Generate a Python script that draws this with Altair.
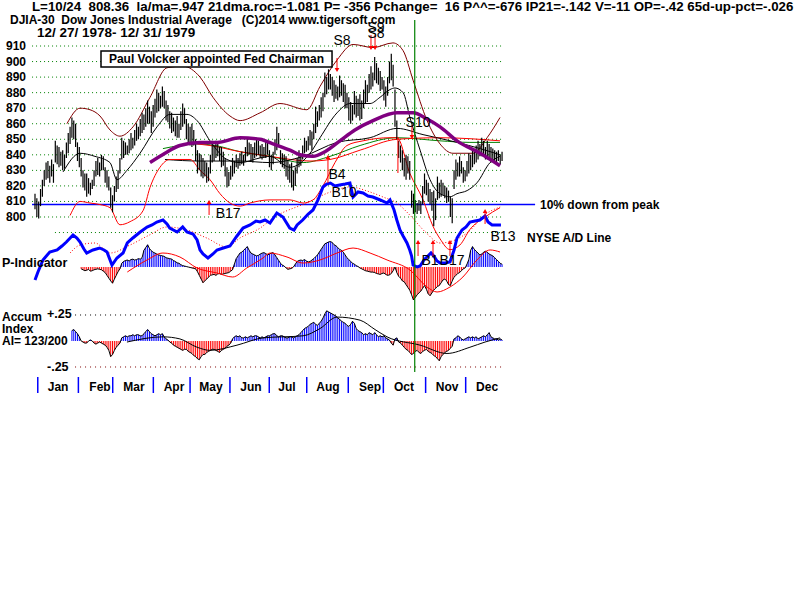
import altair as alt
import pandas as pd

# ---------------- data (trading-day index 0 = 12/27/1978) ----------------
HI = [815,812,810,818,824,830,835,836,833,837,
      834,849,846,845,842,843,840,848,854,858,
      864,862,860,848,845,838,830,828,828,825,
      822,824,830,836,838,835,840,839,832,830,
      826,819,814,820,826,830,838,851,849,848,
      846,850,854,851,856,860,858,863,867,866,
      870,875,871,868,872,876,882,880,878,884,
      881,875,872,868,867,864,862,865,860,868,
      873,870,863,860,858,860,856,850,843,841,
      840,838,836,835,832,840,849,846,849,847,
      845,845,842,838,832,829,833,838,836,840,
      838,841,842,840,845,851,848,847,845,848,
      851,849,846,847,845,849,848,843,840,842,
      850,858,854,843,841,840,839,836,834,835,
      830,832,838,843,840,846,851,849,852,856,
      855,860,871,868,872,877,880,893,890,895,
      892,890,888,885,884,891,888,886,885,880,
      877,874,872,881,878,876,879,875,882,888,
      885,892,897,893,903,899,896,894,890,888,
      884,890,900,905,898,882,862,849,846,843,
      838,840,839,836,817,815,811,809,811,810,
      820,828,824,822,818,816,817,812,826,822,
      824,822,820,819,817,813,812,830,837,835,
      839,836,832,830,836,841,840,843,842,846,
      849,847,851,849,845,849,847,845,844,843,
      842,843,840,842]
LO = [805,800,799,807,813,820,824,825,822,826,
      822,835,834,832,833,830,831,838,841,847,
      851,850,845,836,832,826,819,817,813,815,
      814,818,820,826,827,826,830,830,822,819,
      817,806,803,810,816,818,828,837,838,840,
      840,841,843,844,846,849,850,852,854,856,
      858,860,860,854,858,864,867,868,870,871,
      870,862,861,857,854,855,852,851,851,856,
      858,860,850,848,846,845,846,836,828,830,
      826,825,826,822,823,828,835,836,838,839,
      836,832,833,826,819,820,824,826,828,832,
      831,833,834,833,836,839,840,836,835,838,
      839,840,838,837,838,838,840,832,830,834,
      840,843,845,834,832,831,826,824,822,819,
      817,820,828,832,833,837,841,842,843,846,
      843,850,854,858,862,864,868,877,879,882,
      882,878,874,876,875,877,878,874,870,870,
      862,860,862,866,864,865,862,863,870,873,
      874,880,882,884,888,886,885,881,882,875,
      871,878,886,888,884,858,850,838,835,830,
      826,824,828,824,806,802,803,802,804,802,
      808,815,814,810,808,804,794,798,811,812,
      813,814,812,809,810,800,796,818,824,826,
      826,828,822,823,826,828,830,832,834,835,
      837,839,839,840,837,837,838,835,836,835,
      835,836,834,836]

# P-Indicator, days 25..253
P_START = 25
P_IND = [-20,-30,-40,-35,-25,-45,-40,-30,-25,-20,
         -25,-30,-45,-60,-90,-120,-150,-175,-130,-90,
         -50,-20,40,60,70,75,65,80,85,75,
         80,90,85,100,180,210,240,200,175,160,
         150,140,130,125,120,115,100,95,90,85,
         70,60,45,40,25,15,10,5,0,-5,
         -10,-15,-20,-50,-90,-130,-170,-150,-130,-110,
         -90,-85,-80,-90,-75,-70,-80,-75,-70,-65,
         -60,-45,-30,30,90,120,150,160,180,200,
         220,180,150,140,130,120,125,140,150,155,
         145,130,140,150,155,130,100,70,40,20,
         10,-10,-25,-20,-15,0,30,60,70,75,
         70,80,65,55,60,75,90,110,130,160,
         190,220,250,260,270,275,265,240,230,210,
         190,180,160,130,100,80,60,40,30,15,
         5,-10,-20,-30,-40,-45,-50,-55,-55,-60,
         -70,-75,-80,-70,-65,-80,-90,-85,-70,-40,
         0,-60,-100,-120,-150,-160,-190,-220,-250,-300,
         -356,-330,-300,-280,-260,-230,-200,-240,-290,-310,
         -280,-250,-230,-210,-200,-170,-140,-130,-150,-190,
         -200,-150,-110,-90,-70,-60,-40,-20,-10,30,
         80,180,220,190,170,150,130,140,160,170,
         160,140,130,120,100,80,60,40,30]
PMA_DAY = [50,60.7,69.3,78.5,87.8,98.6,107.1,114.7,123.5,127.3,136.5,145.2,154.4,163.6,172.3,181.5,190.7,203.1,212.4,217.8,224.8,231.8,239.4,246.5,251.9]
PMA_VAL = [-54,76,151,108,-11,-65,-108,-11,97,151,108,43,76,151,205,151,76,-32,-216,-270,-216,-108,76,184,162]

# Accumulation Index, days 20..253
AI_START = 20
AI = [.10,.11,.09,.07,.04,.00,-.01,-.02,-.02,.00,
      .01,.00,-.02,-.03,-.02,-.01,-.02,-.03,-.04,-.06,
      -.09,-.15,-.13,-.09,-.06,-.04,-.02,.03,.04,.05,
      .04,.05,.05,.06,.05,.06,.06,.05,.05,.07,
      .09,.11,.09,.07,.06,.05,.06,.07,.06,.07,
      .04,.02,.01,-.01,-.02,-.04,-.05,-.06,-.07,-.08,
      -.09,-.08,-.08,-.10,-.11,-.12,-.14,-.15,-.17,-.18,
      -.15,-.13,-.13,-.11,-.10,-.09,-.08,-.08,-.09,-.10,
      -.11,-.09,-.08,-.07,-.05,-.04,-.02,.02,.04,.05,
      .04,.05,.03,.03,.04,.03,.04,.05,.04,.05,
      .05,.04,.03,.04,.03,.04,.05,.05,.06,.07,
      .07,.05,.04,.05,.05,.04,.03,.03,.04,.04,
      .03,.04,.05,.06,.08,.10,.12,.13,.14,.16,
      .17,.18,.16,.15,.17,.19,.22,.26,.29,.28,
      .27,.26,.25,.24,.22,.21,.19,.18,.17,.15,
      .14,.16,.19,.17,.12,.10,.09,.08,.06,.07,
      .06,.08,.07,.06,.08,.06,.04,.05,.04,.05,
      .03,.02,.01,-.02,-.04,.02,.03,-.01,-.02,-.04,
      -.06,-.08,-.09,-.11,-.13,-.12,-.10,-.09,-.11,-.12,
      -.10,-.09,-.08,-.10,-.11,-.12,-.14,-.15,-.17,-.19,
      -.15,-.13,-.11,-.10,-.09,-.07,-.05,.02,.03,.05,
      .04,.02,.01,.02,.03,.04,.03,.04,.03,.04,
      .02,.03,.04,.05,.04,.06,.08,.04,.03,.02,
      .02,.01,.02,.01]
AIMA_DAY = [49.8,69.3,78.5,87.8,94.8,109.4,123.5,145.2,154.4,163.6,176.1,184.2,190.7,208.6,223.2,235.6,243.8,251.9]
AIMA_VAL = [-.01,.04,.02,-.06,-.09,-.04,.03,.05,.12,.23,.20,.11,.04,-.04,-.12,-.06,-.01,.03]

# NYSE A/D line and its moving average (arbitrary units)
AD_DAY = [0,1.6,4.3,8,12,14.6,17,20.6,22.7,24.4,26.5,28,31.4,35,37.4,39,41.7,44.4,47.7,50,
          53,57,60.7,63.4,66,69.3,71.5,73,77,80,82.3,85.6,87.8,89.4,91,93.7,96.4,98.6,102,105.6,
          109.4,112.7,116.5,119.7,121.9,124.6,127.3,131,134.3,138,140.3,142,145,148,150.6,153.3,156,158,160,162.5,
          165,168,170.6,172.3,175,177.7,180.4,183,187,190.7,192.3,194.5,196,197.7,199.4,201.5,203,204,204.8,207,
          208.6,210.7,212.3,214.5,216,217.8,219.4,222,224.8,227,228.6,231.3,233.5,235.6,238.4,241,243.8,245.4,247.6,249.7,252.4]
AD_VAL = [200,360,600,760,800,880,960,1100,1040,960,820,740,800,840,800,760,500,640,740,940,
          1040,1160,1260,1300,1360,1400,1320,1240,1160,1260,1160,1120,1000,800,720,640,720,800,840,880,
          1080,1240,1300,1380,1360,1400,1340,1540,1460,1240,1200,1300,1400,1520,1600,1800,2060,2120,2140,2080,
          2100,2120,2140,1860,1960,1940,1880,1860,1800,1740,1800,1600,1400,1200,1080,940,800,680,500,460,
          480,600,660,740,680,580,540,540,560,800,1040,1200,1260,1360,1380,1400,1480,1360,1300,1300,1300]
ADMA_DAY = [19,24.4,32.5,40.6,51.5,62,71.5,82.3,93,104,111,122,129,147,160,170.6,181.5,188.5,196,203,212,219.4,227.5,234,245,252]
ADMA_VAL = [740,900,940,740,900,1100,1260,1200,1040,860,1040,1240,1440,1740,1960,2060,1960,1860,1740,1500,1140,940,1000,1140,1540,1660]

# moving averages and bands of the DJIA
MA21_DAY = [15.2,24.4,32.5,40.6,44.4,49.8,56.9,66.1,73.1,82.3,87.8,94.8,104,111.1,121.9,127.3,138.1,149,154.4,163.6,170.6,181.5,186.9,192.3,195,199.4,203.1,208.6,214,219.4,224.8,228.6,234.1,239.4,246.5,251.9]
MA21_VAL = [829,841,839,835,824,830,841,858,866,866,862,849,837,835,838,839,832,841,851,867,873,873,877,882,883,880,864,843,824,815,813,815,817,822,835,839]
MA65_DAY = [70.4,89.4,111.1,127.3,145.2,163.6,181.5,196.1,210.2,228.6,241.1,251.9]
MA65_VAL = [837,836,836,835,839,848,851,857,853,848,844,840]
PURPLE_DAY = [62.3,70.4,78.5,89.4,98.6,111.1,121.9,128.9,138.1,143.6,150.6,157.1,165.2,173.3,183.1,196.1,204.8,212.4,219.4,228.6,241.1,251.9]
PURPLE_VAL = [835,841,846,848,848,851,850,847,843,840,839,842,849,856,862,867,867,863,858,849,841,833]
GREEN_DAY = [69.3,78.5,87.8,97.5,111.1,127.3,145.2,159.8,176.1,196.1,219.4,235.6,251.9]
GREEN_VAL = [844,846,847,846,842,839,835,839,846,851,849,848,848]
REDMA_DAY = [87.8,94.8,111.1,127.3,149,159.8,176.1,196.1,219.4,251.9]
REDMA_VAL = [847,846,842,839,836,837,843,850,851,849]
UPPER_DAY = [17.3,24.4,29.8,35.2,40.6,46,53.1,62.3,71.5,80.2,89.4,96.4,105.6,111.1,121.9,132.7,147.3,154.4,163.6,172.3,183.1,193.9,199.4,204.8,212.4,219.4,226.4,237.3,244.9,251.9]
UPPER_VAL = [860,870,869,865,856,852,858,877,896,897,890,877,865,862,867,873,869,884,901,911,909,912,907,888,862,847,841,841,851,864]
LOWER_DAY = [19,24.4,29.8,35.2,40.6,46,51.5,58.5,62.3,67.7,73.1,84,89.4,94.8,100.2,105.6,111.1,116.5,127.3,138.1,145.2,150.6,156,162.5,169,177.7,192.3,196.1,203.1,210.2,215.6,219.4,224.8,230.2,235.6,243.8,251.9]
LOWER_VAL = [801,810,809,808,806,795,797,804,819,832,837,837,830,824,815,809,807,809,811,811,809,811,820,835,846,849,851,851,828,811,794,786,779,782,792,800,806]

PRICE_LEVELS = [910,900,890,880,870,860,850,840,830,820,810,800]
TEN_PCT_LEVEL = 808
LAST_DAY = 205.7

MONTHS = ["Jan","Feb","Mar","Apr","May","Jun","Jul","Aug","Sep","Oct","Nov","Dec"]
MONTH_START = [1.5,23.5,42.1,64.1,84,105.6,126.9,147.2,169.7,188.7,211.6,233.3]
MONTH_MID = [12.5,35.2,53.6,75.3,95.3,117,136.5,158.7,181.5,199.9,223.2,244.9]

SIG_TEXT = ["S8","S9","S8","S10","B4","B10","B17","B13","B1","B17"]
SIG_DAY = [166.3,184.7,184.7,207.5,163.6,167.4,104.6,253.5,214.0,225.9]
SIG_PRICE = [913.2,921.6,917.7,860.5,827.0,815.4,801.9,787.1,771.7,771.7]
ARR_DAY = [163.6,182.0,184.2,204.2,158.7,94.3,243.8,207.5,215.6,224.8]
ARR_FROM = [902.3,917.1,917.1,859.2,821.9,801.3,795.5,774.9,774.9,774.9]
ARR_TO = [894.6,908.7,908.7,851.5,838.6,809.6,803.9,783.9,783.9,783.9]

NB = "\u00a0"
HEAD1 = f"L=10/24{NB} 808.36{NB} la/ma=.947 21dma.roc=-1.081 P= -356 Pchange={NB} 16 P^^=-676 IP21=-.142 V=-11 OP=-.42 65d-up-pct=-.026"
HEAD2 = f"DJIA-30{NB} Dow Jones Industrial Average{NB}{NB} (C)2014 www.tigersoft.com"
HEAD3 = "12/ 27/ 1978- 12/ 31/ 1979"
NOTE = "Paul Volcker appointed Fed Chairman"

# ---------------- scales (fixed so each panel sits in its band) ----------------
XDOM = [-18.96, 414.4]
PRICE_DOM = [553.6, 939.6]
P_DOM = [-3596.4, 2883.6]
AI_DOM = [-2.4904, 3.2788]
AD_DOM = [-6200, 5800]
FONT = "Liberation Sans"
BLUE, RED, GREEN = "#0000ff", "#ff0000", "#008000"


def xq(field="day"):
    return alt.X(f"{field}:Q", scale=alt.Scale(domain=XDOM, nice=False, zero=False), axis=None)


def x2q(field):
    return alt.X2(f"{field}:Q")


def yq(field, dom):
    return alt.Y(f"{field}:Q", scale=alt.Scale(domain=dom, nice=False, zero=False), axis=None)


def line(days, vals, dom, color, width, dash=None, interp="monotone"):
    df = pd.DataFrame({"day": days, "v": vals})
    kw = dict(color=color, strokeWidth=width, interpolate=interp)
    if dash:
        kw["strokeDash"] = dash
    return alt.Chart(df).mark_line(**kw).encode(x=xq(), y=yq("v", dom))


def text_px(txt, x, y, size=12.5, weight="bold", align="left", color="black"):
    df = pd.DataFrame({"t": [txt]})
    return alt.Chart(df).mark_text(align=align, baseline="middle", font=FONT, fontSize=size,
                                   fontWeight=weight, color=color).encode(
        x=alt.value(x), y=alt.value(y), text="t:N")


layers = []

# grid lines (price panel)
grid = pd.DataFrame({"p": PRICE_LEVELS + [790], "d0": [-1.6] * len(PRICE_LEVELS) + [10.8],
                     "d1": [253.5] * (len(PRICE_LEVELS) + 1)})
layers.append(alt.Chart(grid).mark_rule(color=GREEN, strokeDash=[1, 3], strokeWidth=1).encode(
    x=xq("d0"), x2=x2q("d1"), y=yq("p", PRICE_DOM)))
# accumulation +/-.25 lines
aig = pd.DataFrame({"a": [0.25, -0.25], "d0": [21.7, 21.7], "d1": [253.5, 253.5], "c": ["a", "b"]})
layers.append(alt.Chart(aig).mark_rule(strokeDash=[1, 4], strokeWidth=1).encode(
    x=xq("d0"), x2=x2q("d1"), y=yq("a", AI_DOM),
    color=alt.Color("c:N", scale=alt.Scale(domain=["a", "b"], range=["#000000", "#800000"]), legend=None)))

# price labels
plab = pd.DataFrame({"p": PRICE_LEVELS, "t": [str(v) for v in PRICE_LEVELS]})
layers.append(alt.Chart(plab).mark_text(align="left", baseline="middle", font=FONT, fontSize=12,
                                        fontWeight="bold").encode(x=alt.value(6), y=yq("p", PRICE_DOM), text="t:N"))

# 10% down line
ten = pd.DataFrame({"p": [TEN_PCT_LEVEL], "d0": [-1.6], "d1": [270.9]})
layers.append(alt.Chart(ten).mark_rule(color=BLUE, strokeWidth=1.5).encode(
    x=xq("d0"), x2=x2q("d1"), y=yq("p", PRICE_DOM)))

# moving averages and bands
layers.append(line(GREEN_DAY, GREEN_VAL, PRICE_DOM, GREEN, 1))
layers.append(line(REDMA_DAY, REDMA_VAL, PRICE_DOM, RED, 1))
layers.append(line(MA65_DAY, MA65_VAL, PRICE_DOM, "#000000", 1))
layers.append(line(UPPER_DAY, UPPER_VAL, PRICE_DOM, "#800000", 1))
layers.append(line(LOWER_DAY, LOWER_VAL, PRICE_DOM, RED, 1))
layers.append(line(MA21_DAY, MA21_VAL, PRICE_DOM, "#000000", 1))

# price bars
bars = pd.DataFrame({"day": list(range(len(HI))), "hi": HI, "lo": LO})
layers.append(alt.Chart(bars).mark_rule(color="#000000", strokeWidth=1.2).encode(
    x=xq(), y=yq("lo", PRICE_DOM), y2=alt.Y2("hi:Q")))
layers.append(line(PURPLE_DAY, PURPLE_VAL, PRICE_DOM, "#800080", 3.5))

# P-Indicator histogram
pdf = pd.DataFrame({"day": list(range(P_START, P_START + len(P_IND))), "v": P_IND})
pdf["zero"] = 0
layers.append(alt.Chart(pdf).mark_rule(strokeWidth=1).encode(
    x=xq(), y=yq("v", P_DOM), y2=alt.Y2("zero:Q"),
    color=alt.condition("datum.v >= 0", alt.value(BLUE), alt.value(RED))))
layers.append(alt.Chart(pdf).mark_line(color="#000000", strokeWidth=1).encode(x=xq(), y=yq("v", P_DOM)))
layers.append(line(PMA_DAY, PMA_VAL, P_DOM, RED, 1))

# Accumulation index histogram
adf = pd.DataFrame({"day": list(range(AI_START, AI_START + len(AI))), "v": AI})
adf["zero"] = 0
layers.append(alt.Chart(adf).mark_rule(strokeWidth=1).encode(
    x=xq(), y=yq("v", AI_DOM), y2=alt.Y2("zero:Q"),
    color=alt.condition("datum.v >= 0", alt.value(BLUE), alt.value(RED))))
layers.append(alt.Chart(adf).mark_line(color="#000000", strokeWidth=1).encode(x=xq(), y=yq("v", AI_DOM)))
layers.append(line(AIMA_DAY, AIMA_VAL, AI_DOM, "#000000", 1))

# A/D line
layers.append(line(ADMA_DAY, ADMA_VAL, AD_DOM, RED, 1, dash=[1, 2]))
layers.append(line(AD_DAY, AD_VAL, AD_DOM, BLUE, 3, interp="linear"))

# green marker line at the last date
lastdf = pd.DataFrame({"day": [LAST_DAY]})
layers.append(alt.Chart(lastdf).mark_rule(color=GREEN, strokeWidth=1.2).encode(
    x=xq(), y=alt.value(20), y2=alt.value(372)))

# signal arrows
arr = pd.DataFrame({"day": ARR_DAY, "a": ARR_FROM, "b": ARR_TO})
arr["shape"] = ["triangle-down" if b < a else "triangle-up" for a, b in zip(ARR_FROM, ARR_TO)]
layers.append(alt.Chart(arr).mark_rule(color=RED, strokeWidth=1).encode(
    x=xq(), y=yq("a", PRICE_DOM), y2=alt.Y2("b:Q")))
layers.append(alt.Chart(arr).mark_point(filled=True, color=RED, size=22, opacity=1).encode(
    x=xq(), y=yq("b", PRICE_DOM), shape=alt.Shape("shape:N", scale=None)))
sigline = pd.DataFrame({"day": [196.6], "a": [851.5], "b": [828.3]})
layers.append(alt.Chart(sigline).mark_rule(color=RED, strokeWidth=1).encode(
    x=xq(), y=yq("a", PRICE_DOM), y2=alt.Y2("b:Q")))

# signal labels
sig = pd.DataFrame({"day": SIG_DAY, "p": SIG_PRICE, "t": SIG_TEXT})
layers.append(alt.Chart(sig).mark_text(align="center", baseline="middle", font=FONT, fontSize=14,
                                       color="#000000").encode(x=xq(), y=yq("p", PRICE_DOM), text="t:N"))

# annotation box
box = pd.DataFrame({"d0": [35.75], "d1": [160.9], "p0": [906.8], "p1": [896.5], "cx": [98.3], "cy": [901.6], "t": [NOTE]})
layers.append(alt.Chart(box).mark_rect(fill="white", stroke="black", strokeWidth=1.5).encode(
    x=xq("d0"), x2=x2q("d1"), y=yq("p0", PRICE_DOM), y2=alt.Y2("p1:Q")))
layers.append(alt.Chart(box).mark_text(align="center", baseline="middle", font=FONT, fontSize=12,
                                       fontWeight="bold").encode(x=xq("cx"), y=yq("cy", PRICE_DOM), text="t:N"))

# month ticks and labels
mt = pd.DataFrame({"day": MONTH_START})
layers.append(alt.Chart(mt).mark_rule(color=BLUE, strokeWidth=1.5).encode(
    x=xq(), y=alt.value(377), y2=alt.value(393)))
ml = pd.DataFrame({"day": MONTH_MID, "t": MONTHS})
layers.append(alt.Chart(ml).mark_text(align="center", baseline="middle", font=FONT, fontSize=12,
                                      fontWeight="bold").encode(x=xq(), y=alt.value(387), text="t:N"))

# fixed texts
layers += [
    text_px(HEAD1, 32, 7, size=13.3),
    text_px(HEAD2, 10, 20, size=12),
    text_px(HEAD3, 37, 33, size=13.5),
    text_px("P-Indicator", 2, 263),
    text_px("Accum", 2, 317, size=12),
    text_px("Index", 2, 329, size=12),
    text_px("AI= 123/200", 2, 341, size=12),
    text_px("+.25", 47, 314),
    text_px("-.25", 47, 367),
    text_px("10% down from peak", 540, 205, size=12),
    text_px("NYSE A/D Line", 527, 238, size=12),
]

chart = alt.layer(*layers).properties(
    width=800, height=600, padding=0, background="white",
    autosize=alt.AutoSizeParams(type="none")
).resolve_scale(y="independent").configure_view(strokeWidth=0)

chart.save("out.html", embed_options={"renderer": "svg", "actions": False})
